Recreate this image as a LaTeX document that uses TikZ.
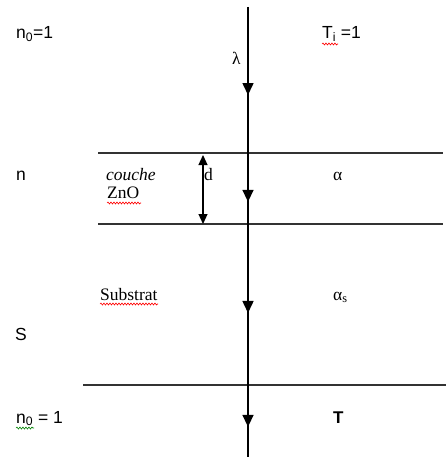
\documentclass[tikz,border=0pt]{standalone}
\usepackage{fontspec}
\setmainfont{Liberation Serif}
\newfontfamily\arialf{Liberation Sans}
\usetikzlibrary{arrows.meta,decorations.markings,decorations.pathmorphing}
\begin{document}
\begin{tikzpicture}[x=1pt,y=-1pt,
  lab/.style={anchor=base west,inner sep=0pt,font=\fontsize{17.5}{20}\selectfont},
  sanslab/.style={lab,font=\arialf\fontsize{17.5}{20}\selectfont},
  layer/.style={line width=1.2pt,draw=black!80},
  ray/.style={line width=1.5pt,
    postaction={decorate,decoration={markings,
      mark=at position 0.1956 with {\arrow{Triangle[length=12pt,width=11pt]}},
      mark=at position 0.433 with {\arrow{Triangle[length=12pt,width=11pt]}},
      mark=at position 0.680 with {\arrow{Triangle[length=12pt,width=11pt]}},
      mark=at position 0.933 with {\arrow{Triangle[length=12pt,width=11pt]}}}}},
  thick2/.style={line width=1.2pt,{Triangle[length=10pt,width=9pt]}-{Triangle[length=10pt,width=9pt]}},
  squig/.style={red,line width=0.6pt,decorate,decoration={snake,amplitude=1pt,segment length=3pt}}
]
\useasboundingbox (0,0) rectangle (446,457);
% layer boundaries
\coordinate (l1a) at (98,153); \coordinate (l1b) at (443,153);
\coordinate (l2a) at (98,224); \coordinate (l2b) at (443,224);
\coordinate (l3a) at (83,385); \coordinate (l3b) at (446,385);
\draw[layer] (l1a) -- (l1b);
\draw[layer] (l2a) -- (l2b);
\draw[layer] (l3a) -- (l3b);
% light ray
\coordinate (rtop) at (248,7); \coordinate (rbot) at (248,457);
\draw[ray] (rtop) -- (rbot);
% thickness d
\coordinate (dtop) at (203,155); \coordinate (dbot) at (203,224);
\draw[thick2] (dtop) -- (dbot);
% labels
\node[sanslab] (n0top) at (16,39) {n\textsubscript{0}=1};
\node[sanslab] (ti) at (322,39) {T\textsubscript{i} =1};
\node[lab] (lam) at (232,65) {λ};
\node[sanslab] (nl) at (16,180) {n};
\node[lab] (couche) at (106,180) {\itshape couche};
\node[lab] (zno) at (107,198) {ZnO};
\node[lab] (dl) at (204,180) {d};
\node[lab] (alpha) at (333,180) {α};
\node[lab] (sub) at (100,300) {Substrat};
\node[lab] (alphas) at (333,300) {α\textsubscript{s}};
\node[sanslab] (sl) at (15,340) {S};
\node[sanslab] (n0bot) at (16,423) {n\textsubscript{0} = 1};
\node[sanslab,font=\arialf\bfseries\fontsize{17}{20}\selectfont] (tl) at (333,423) {T};
% spell-check squiggles
\draw[squig] (322,44) -- (338,44);
\draw[squig] (107,203) -- (141,203);
\draw[squig] (100,304) -- (158,304);
\draw[squig,green!50!black] (16,428) -- (34,428);
\end{tikzpicture}
\end{document}
